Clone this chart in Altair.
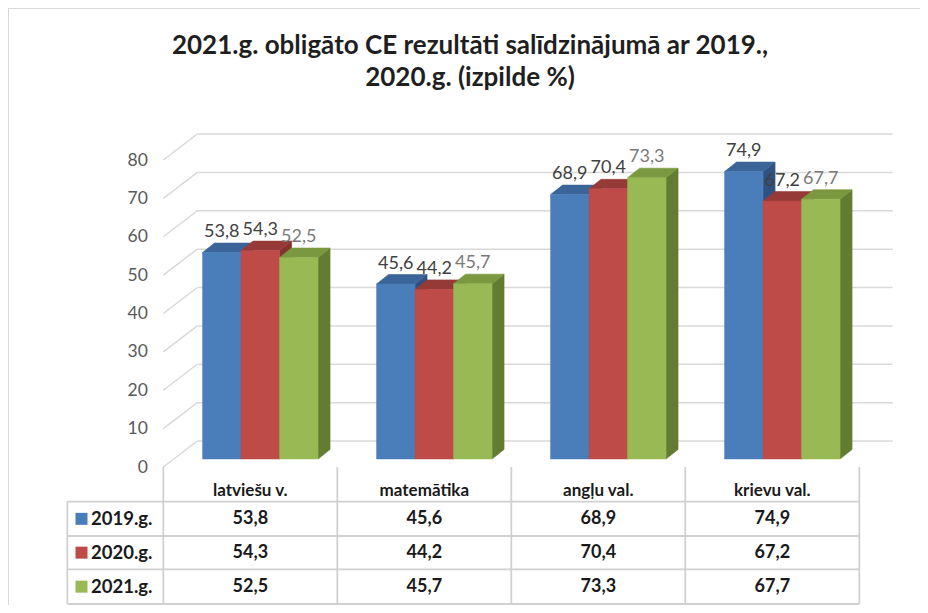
import altair as alt
import pandas as pd

# ---------------- data ----------------
categories = ["latviešu v.", "matemātika", "angļu val.", "krievu val."]
series = ["2019.g.", "2020.g.", "2021.g."]
v2019 = [53.8, 45.6, 68.9, 74.9]
v2020 = [54.3, 44.2, 70.4, 67.2]
v2021 = [52.5, 45.7, 73.3, 67.7]
y_ticks = [0, 10, 20, 30, 40, 50, 60, 70, 80]

title_lines = ["2021.g. obligāto CE rezultāti salīdzinājumā ar 2019.,", "2020.g. (izpilde %)"]

# ---------------- styling / geometry ----------------
FONT = "Lato"
front_col = ["#4a7ebb", "#be4b48", "#98b954"]
top_col = ["#3b6498", "#963a37", "#7a983f"]
side_col = ["#2f5283", "#84322f", "#627d31"]
label_col = ["#404040", "#404040", "#7a7a7a"]
GRID = "#d9d9d9"

W, H = 912, 597
PX_X, PX_Y = 174.0, 3.8375          # pixels per data unit
X0_CANVAS, Y0_CANVAS = 155.3, 459.0  # canvas position of (0, 0)


def ux(px):
    return px / PX_X


def uy(px):
    return px / PX_Y


x_dom = [-X0_CANVAS / PX_X, (W - X0_CANVAS) / PX_X]
y_dom = [-(H - Y0_CANVAS) / PX_Y, Y0_CANVAS / PX_Y]

BAR_W = ux(38.5)
SHIFT_X, SHIFT_Y = ux(10), uy(8)
DEP_X, DEP_Y = ux(12), uy(9.5)
WALL_X, WALL_Y = ux(34), uy(26)
WALL_RIGHT = ux(892.7 - 163.3)

XS = alt.Scale(domain=x_dom, nice=False, zero=False)
YS = alt.Scale(domain=y_dom, nice=False, zero=False)
Y_AXIS = alt.Axis(values=y_ticks, offset=-X0_CANVAS, labelPadding=16, domain=False,
                  ticks=False, grid=False, title=None, labelFont=FONT, labelFontSize=17.5,
                  labelColor="#595959")


def X(f):
    return alt.X(f, type="quantitative", scale=XS, axis=None)


def Y(f):
    return alt.Y(f, type="quantitative", scale=YS, axis=Y_AXIS)


def fmt(v):
    return f"{v:.1f}".replace(".", ",")


values = [v2019, v2020, v2021]

fronts, sides, tops, labels = [], [], [], []
for i, cat in enumerate(categories):
    for k, s in enumerate(series):
        v = values[k][i]
        xl = i + 0.5 + SHIFT_X - 1.5 * BAR_W + k * BAR_W
        xr = xl + BAR_W
        yb, yt = SHIFT_Y, v + SHIFT_Y
        bid = f"{i}-{k}"
        fronts.append(dict(x=xl, x2=xr, y=yb, y2=yt, fill=front_col[k]))
        sides += [dict(id=bid, x=xr, lo=yb, hi=yt, fill=side_col[k]),
                  dict(id=bid, x=xr + DEP_X, lo=yb + DEP_Y, hi=yt + DEP_Y, fill=side_col[k])]
        tops += [dict(id=bid, x=xl, lo=yt, hi=yt, fill=top_col[k]),
                 dict(id=bid, x=xl + DEP_X, lo=yt, hi=yt + DEP_Y, fill=top_col[k]),
                 dict(id=bid, x=xr, lo=yt, hi=yt + DEP_Y, fill=top_col[k]),
                 dict(id=bid, x=xr + DEP_X, lo=yt + DEP_Y, hi=yt + DEP_Y, fill=top_col[k])]
        labels.append(dict(x=(xl + xr) / 2, y=yt, text=fmt(v), color=label_col[k]))

fronts, sides, tops, labels = map(pd.DataFrame, [fronts, sides, tops, labels])

grid = pd.DataFrame(dict(x=[0.0] * len(y_ticks), x2=[WALL_X] * len(y_ticks),
                         y=y_ticks, yb=[t + WALL_Y for t in y_ticks],
                         xr=[WALL_RIGHT] * len(y_ticks)))

# ---------------- grid / walls ----------------
diag = alt.Chart(grid).mark_rule(color=GRID, strokeWidth=1.5).encode(
    x=X("x"), x2="x2", y=Y("y"), y2="yb")
back = alt.Chart(grid).mark_rule(color=GRID, strokeWidth=1.5).encode(
    x=X("x2"), x2="xr", y=Y("yb"))

# ---------------- 3D bars ----------------
side_l = alt.Chart(sides).mark_area(opacity=1, strokeWidth=0.6, interpolate="linear").encode(
    x=X("x"), y=Y("lo"), y2="hi", detail="id:N",
    fill=alt.Fill("fill:N", scale=None), stroke=alt.Stroke("fill:N", scale=None))
top_l = alt.Chart(tops).mark_area(opacity=1, strokeWidth=0.6, interpolate="linear").encode(
    x=X("x"), y=Y("lo"), y2="hi", detail="id:N",
    fill=alt.Fill("fill:N", scale=None), stroke=alt.Stroke("fill:N", scale=None))
front_l = alt.Chart(fronts).mark_bar(strokeWidth=0.5).encode(
    x=X("x"), x2="x2", y=Y("y"), y2="y2",
    fill=alt.Fill("fill:N", scale=None), stroke=alt.Stroke("fill:N", scale=None))
lab_l = alt.Chart(labels).mark_text(font=FONT, fontSize=18, dy=-20.5, baseline="middle").encode(
    x=X("x"), y=Y("y"), text="text:N", color=alt.Color("color:N", scale=None))

# ---------------- data table ----------------
row_px = [501.7, 536.0, 569.3, 604.0]
row_b = [uy(467 - p) for p in row_px]
leg_left = ux(67.3 - 163.3)

vlines = pd.DataFrame(dict(x=[0, 1, 2, 3, 4, leg_left],
                           y=[0, 0, 0, 0, 0, row_b[0]],
                           y2=[row_b[-1]] * 6))
hlines = pd.DataFrame(dict(x=[leg_left] * 4, x2=[4] * 4, y=row_b))

tbl_v = alt.Chart(vlines).mark_rule(color="#d0d0d0", strokeWidth=1.8).encode(
    x=X("x"), y=Y("y"), y2="y2")
tbl_h = alt.Chart(hlines).mark_rule(color="#d0d0d0", strokeWidth=1.8).encode(
    x=X("x"), x2="x2", y=Y("y"))

head = pd.DataFrame(dict(x=[i + 0.5 for i in range(4)], y=[uy(467 - 491)] * 4, text=categories))
head_l = alt.Chart(head).mark_text(font=FONT, fontSize=17, fontWeight="bold", color="#1a1a1a").encode(
    x=X("x"), y=Y("y"), text="text:N")

cells = []
legend_rows = []
for k, s in enumerate(series):
    yc = (row_b[k] + row_b[k + 1]) / 2
    legend_rows.append(dict(xs=ux(81.5 - 163.3), xt=ux(91 - 163.3), y=yc, text=s, fill=front_col[k]))
    for i in range(4):
        cells.append(dict(x=i + 0.5, y=yc, text=fmt(values[k][i])))
cells = pd.DataFrame(cells)
legend_rows = pd.DataFrame(legend_rows)

cell_l = alt.Chart(cells).mark_text(font=FONT, fontSize=18, fontWeight="bold", color="#1a1a1a").encode(
    x=X("x"), y=Y("y"), text="text:N")
sq_l = alt.Chart(legend_rows).mark_square(size=144, opacity=1).encode(
    x=X("xs"), y=Y("y"), fill=alt.Fill("fill:N", scale=None))
legt_l = alt.Chart(legend_rows).mark_text(font=FONT, fontSize=18.5, fontWeight="bold", color="#1a1a1a",
                                          align="left").encode(
    x=X("xt"), y=Y("y"), text="text:N")

# frame (top + left edge of the chart area)
frame = pd.DataFrame(dict(x=[x_dom[0], x_dom[0]], x2=[x_dom[1], x_dom[0]],
                          y=[y_dom[1], y_dom[1]], y2=[y_dom[1], y_dom[0]]))
frame_l = alt.Chart(frame).mark_rule(color="#d9d9d9", strokeWidth=2).encode(
    x=X("x"), x2="x2", y=Y("y"), y2="y2")

chart = alt.layer(
    frame_l, diag, back, side_l, top_l, front_l, lab_l,
    tbl_v, tbl_h, head_l, cell_l, sq_l, legt_l
).properties(
    width=W, height=H,
    autosize=alt.AutoSizeParams(type="none"),
    padding={"left": 0, "top": 0, "right": 0, "bottom": 0},
    title=alt.Title(title_lines, font=FONT, fontSize=26, fontWeight="bold", color="#1f1f1f",
                    anchor="middle", baseline="top", offset=-84, lineHeight=32, dx=6),
).configure_view(stroke=None).configure(background="white")

chart.save("out.html", embed_options={"renderer": "svg", "actions": False})
